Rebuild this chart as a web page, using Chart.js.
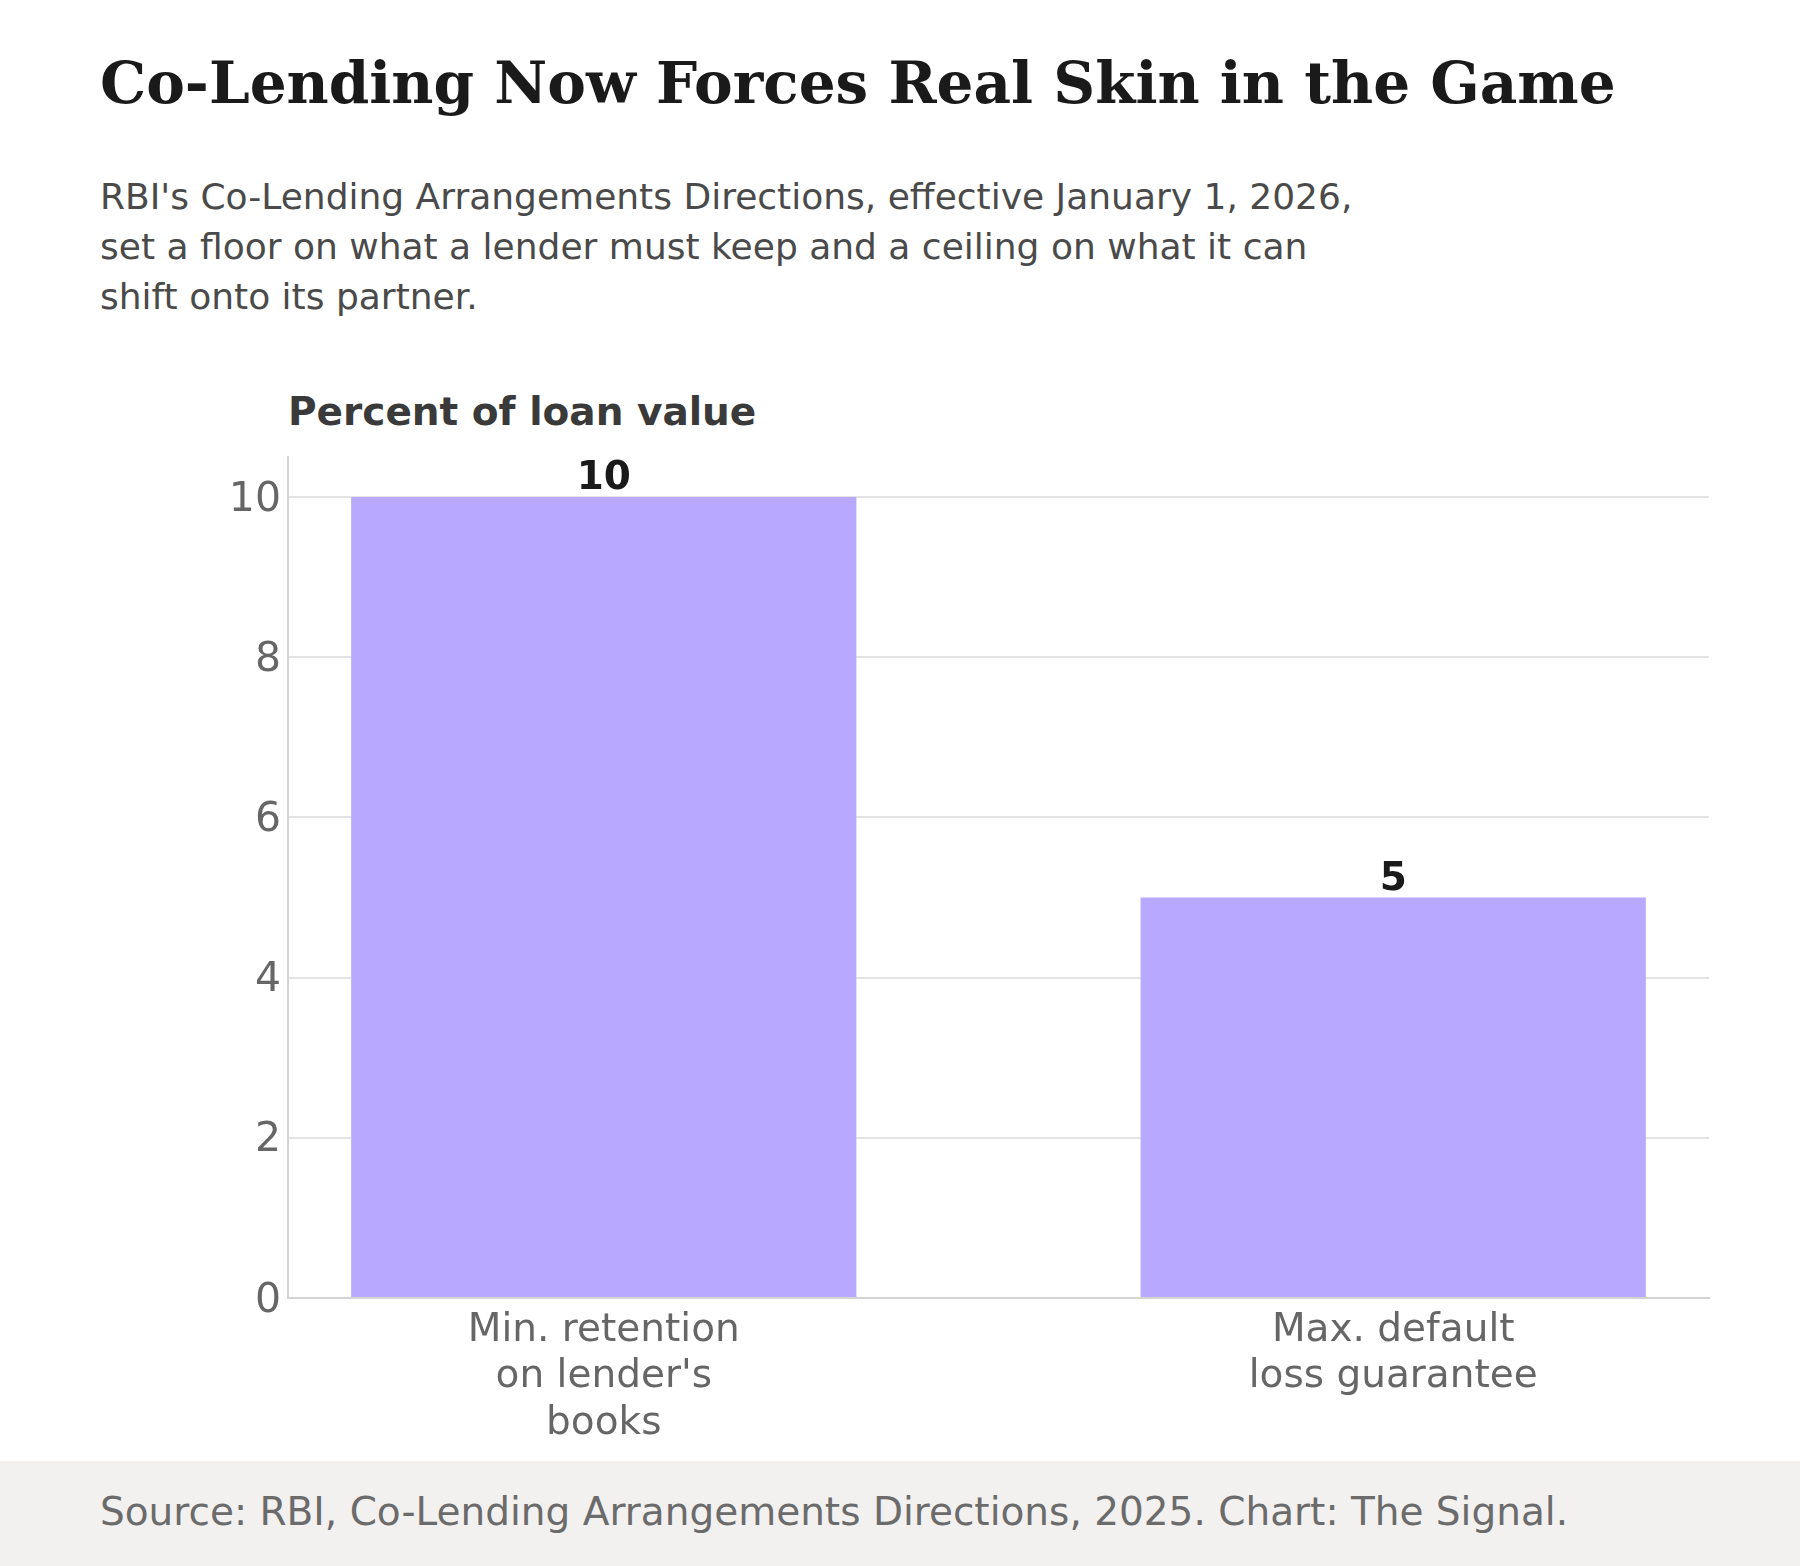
<!DOCTYPE html>
<html>
<head>
<meta charset="utf-8">
<script src="https://cdn.jsdelivr.net/npm/chart.js@4.4.1/dist/chart.umd.min.js"></script>
<style>
  html, body { margin: 0; padding: 0; background: #ffffff; }
  body { width: 1800px; height: 1566px; position: relative; overflow: hidden; font-family: "DejaVu Sans", sans-serif; }
  #title { position: absolute; left: 100px; top: 54px; font-family: "DejaVu Serif", serif; font-weight: bold; font-size: 58px; line-height: 58px; color: #1a1a1a; white-space: nowrap; }
  #subtitle { position: absolute; left: 100px; top: 172px; font-size: 36px; line-height: 50px; color: #4a4a4a; white-space: nowrap; }
  #ytitle { position: absolute; left: 288px; top: 392px; font-size: 39px; line-height: 39px; font-weight: bold; color: #3a3a3a; white-space: nowrap; }
  #chartwrap { position: absolute; left: 0; top: 440px; width: 1800px; height: 1021px; }
  #footer { position: absolute; left: 0; top: 1461px; width: 1800px; height: 105px; background: #f2f1f0; }
  #source { position: absolute; left: 100px; top: 31px; font-size: 39px; line-height: 39px; color: #6b6b6b; white-space: nowrap; }
</style>
</head>
<body>
<div id="title">Co-Lending Now Forces Real Skin in the Game</div>
<div id="subtitle">RBI's Co-Lending Arrangements Directions, effective January 1, 2026,<br>set a floor on what a lender must keep and a ceiling on what it can<br>shift onto its partner.</div>
<div id="ytitle">Percent of loan value</div>
<div id="chartwrap"><canvas id="c" width="1800" height="1021"></canvas></div>
<div id="footer"><div id="source">Source: RBI, Co-Lending Arrangements Directions, 2025. Chart: The Signal.</div></div>
<script>
const categories = [
  ["Min. retention", "on lender's", "books"],
  ["Max. default", "loss guarantee"]
];
const values = [10, 5];
const valueLabels = ["10", "5"];
const yTicks = [0, 2, 4, 6, 8, 10];

const barColor = "#b8a9ff";

const valueLabelPlugin = {
  id: "valueLabels",
  afterDatasetsDraw(chart) {
    const ctx = chart.ctx;
    const meta = chart.getDatasetMeta(0);
    ctx.save();
    ctx.font = "bold 39px 'DejaVu Sans'";
    ctx.fillStyle = "#1a1a1a";
    ctx.textAlign = "center";
    ctx.textBaseline = "alphabetic";
    meta.data.forEach((bar, i) => {
      ctx.fillText(valueLabels[i], bar.x, bar.y - 8);
    });
    ctx.restore();
  }
};

new Chart(document.getElementById("c"), {
  type: "bar",
  data: {
    datasets: [{
      data: values.map((v, i) => ({ x: i, y: v })),
      backgroundColor: barColor,
      borderWidth: 0,
      barPercentage: 0.64,
      categoryPercentage: 1.0
    }]
  },
  options: {
    responsive: false,
    animation: false,
    devicePixelRatio: 1,
    layout: { padding: { left: 0, right: 91, top: 17, bottom: 0 } },
    plugins: { legend: { display: false }, tooltip: { enabled: false } },
    scales: {
      x: {
        type: "linear",
        offset: false,
        min: -0.4,
        max: 1.4,
        afterBuildTicks(scale) { scale.ticks = categories.map((_, i) => ({ value: i })); },
        afterFit(scale) { scale.height = 163; scale.paddingLeft = 0; scale.paddingRight = 0; },
        grid: { display: false, drawTicks: false, offset: false },
        border: { display: true, color: "#d4d4d4", width: 2 },
        ticks: {
          autoSkip: false,
          maxRotation: 0,
          padding: 9,
          color: "#666666",
          font: { family: "'DejaVu Sans'", size: 39, lineHeight: 1.2 },
          callback: (v) => categories[v]
        }
      },
      y: {
        min: 0,
        max: 10.5,
        afterBuildTicks(scale) { scale.ticks = yTicks.map(v => ({ value: v })); },
        afterFit(scale) { scale.width = 288; scale.paddingTop = 0; scale.paddingBottom = 0; },
        grid: { color: "#e3e3e3", lineWidth: 2, drawTicks: false },
        border: { display: true, color: "#d4d4d4", width: 2 },
        ticks: {
          padding: 7,
          labelOffset: 3,
          color: "#666666",
          font: { family: "'DejaVu Sans'", size: 41 },
          callback: (v) => String(v)
        }
      }
    }
  },
  plugins: [valueLabelPlugin]
});
</script>
</body>
</html>
